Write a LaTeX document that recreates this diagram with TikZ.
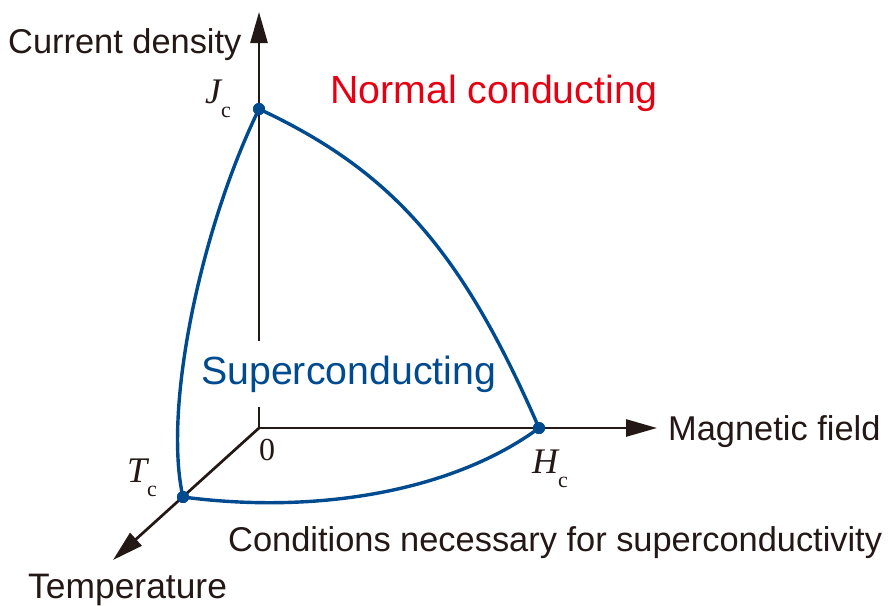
\documentclass[tikz,border=0pt]{standalone}
\usepackage{fontspec}
\setmainfont{Liberation Sans}
\newfontfamily\critfont{Liberation Serif}
\usetikzlibrary{arrows.meta, positioning}
\definecolor{axisdark}{HTML}{231815}
\definecolor{phaseblue}{HTML}{004A8F}
\definecolor{normalred}{HTML}{E60012}
\newcommand{\critval}[1]{{\critfont\itshape #1}\raisebox{-14pt}{\fontsize{22}{22}\selectfont\critfont c}}

\begin{document}
\begin{tikzpicture}[x=1pt, y=-1pt]
  \tikzstyle{axis}=[draw=axisdark, line width=2.7pt,
    -{Triangle[length=31pt, width=17pt]}]
  \tikzstyle{bound}=[draw=phaseblue, line width=3.4pt]
  \tikzstyle{crit}=[fill=phaseblue, circle, inner sep=0pt, minimum size=12pt]
  \tikzstyle{lbl}=[font=\fontsize{34.4}{40}\selectfont, text=axisdark,
    inner sep=0pt, anchor=base west]
  \tikzstyle{critlbl}=[font=\fontsize{36}{40}\selectfont, text=axisdark,
    inner sep=0pt, anchor=base west]

  \useasboundingbox (0,0) rectangle (888,605);

  \coordinate (O) at (259,428);
  \coordinate (jtip) at (259,12);
  \coordinate (htip) at (657,428);
  \coordinate (ttip) at (113,560);

  \draw[axis] (O) -- (jtip);
  \draw[axis] (O) -- (htip);
  \draw[axis] (O) -- (ttip);

  \node[lbl] (jaxis) at (8,53) {Current density};
  \node[lbl] (haxis) at (668,440) {Magnetic field};
  \node[lbl, font=\fontsize{35.4}{40}\selectfont] (taxis) at (28,598) {Temperature};
  \node[lbl] (cond) at (228,551) {Conditions necessary for superconductivity};
  \node[lbl, font=\fontsize{39.3}{44}\selectfont, text=normalred] (normal)
    at (330,103) {Normal conducting};
  \node[lbl, font=\fontsize{39.3}{44}\selectfont, text=phaseblue,
    fill=white, inner xsep=2pt, inner ysep=15pt] (super)
    at (199,384) {Superconducting};
  \node[critlbl, font=\fontsize{32}{36}\selectfont\critfont] (zero)
    at (259,460) {0};

  \node[crit] (jc) at (259,109) {};
  \node[crit] (hc) at (539,428) {};
  \node[crit] (tc) at (183,497) {};

  \node[critlbl] (jlab) at (205,103) {\critval{J}};
  \node[critlbl] (tlab) at (127,482) {\critval{T}};
  \node[critlbl] (hlab) at (532,473) {\critval{H}};

  \draw[bound] (jc.center) .. controls (392,171) and (462,251) .. (hc.center);
  \draw[bound] (jc.center) .. controls (200,230) and (163,410) .. (tc.center);
  \draw[bound] (tc.center) .. controls (320,515) and (455,490) .. (hc.center);
  \node[crit] at (jc) {};
  \node[crit] at (hc) {};
  \node[crit] at (tc) {};
\end{tikzpicture}
\end{document}
